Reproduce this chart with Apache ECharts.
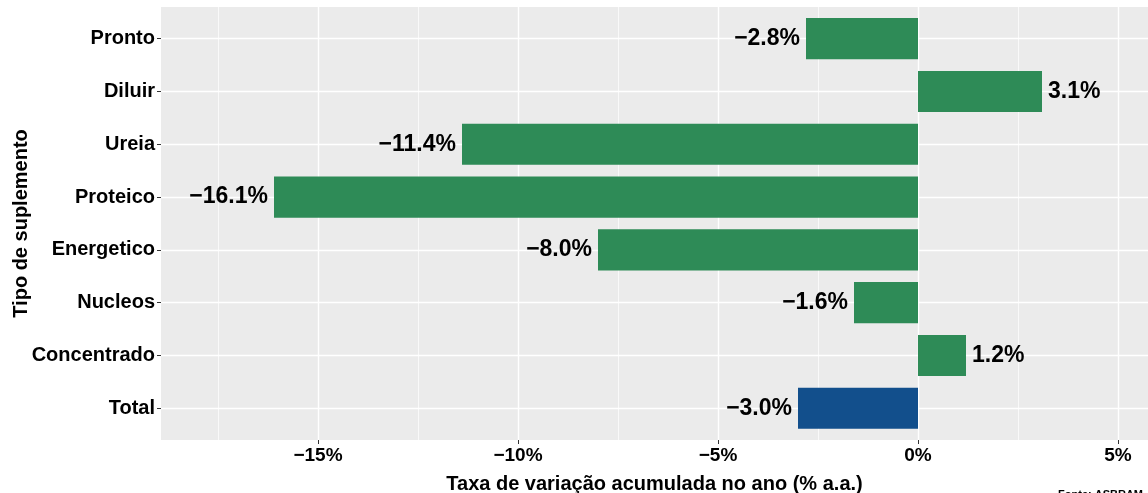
<!DOCTYPE html>
<html>
<head>
<meta charset="utf-8">
<style>
html,body{margin:0;padding:0;background:#fff;}
#chart{width:1148px;height:493px;}
</style>
</head>
<body>
<div id="chart"></div>
<script src="https://cdn.jsdelivr.net/npm/echarts@6/dist/echarts.min.js"></script>
<script type="text/javascript">
	// categorias (de cima para baixo) e taxa acumulada no ano (%)
	var categorias = ['Pronto', 'Diluir', 'Ureia', 'Proteico', 'Energetico', 'Nucleos', 'Concentrado', 'Total'];
	var taxas = [-2.8, 3.1, -11.4, -16.1, -8.0, -1.6, 1.2, -3.0];
	var ticksX = [-15, -10, -5, 0, 5];
	var ticksXMenor = [-17.5, -12.5, -7.5, -2.5, 2.5];

	var fonte = 'Liberation Sans';
	var xMin = -18.925, xMax = 5.75;

	function fmt(v) {
		return (v < 0 ? '\u2212' : '') + Math.abs(v).toFixed(1) + '%';
	}
	function fmtEixo(v) {
		return (v < 0 ? '\u2212' : '') + Math.abs(v) + '%';
	}

	var dados = [];
	for (var i = 0; i < taxas.length; i++) {
		dados.push({
			value: taxas[i],
			itemStyle: {color: categorias[i] === 'Total' ? '#124F8C' : '#2E8B57'},
			label: {position: taxas[i] < 0 ? 'left' : 'right'}
		});
	}

	// centros das categorias no painel (estilo ggplot, expansão 0.6)
	var linhasY = [];
	for (var k = 0; k < categorias.length; k++) linhasY.push(k + 0.6);

	var chart = echarts.init(document.getElementById('chart'));
	var option = {
		animation: false,
		textStyle: {fontFamily: fonte},
		title: {
			text: 'Fonte: ASBRAM',
			right: 0, bottom: -12,
			textStyle: {fontSize: 11, fontWeight: 'bold', color: '#000', fontFamily: fonte}
		},
		grid: [
			{left: 161, right: 0, top: 7, bottom: 53, show: true, backgroundColor: '#EBEBEB', borderWidth: 0, outerBoundsMode: 'none'},
			{left: 161, right: 0, top: 12.28, bottom: 58.32, outerBoundsMode: 'none'}
		],
		xAxis: [
			{
				gridIndex: 0, type: 'value', min: xMin, max: xMax, position: 'bottom',
				axisLine: {show: false, onZero: false},
				axisTick: {show: true, length: 4, lineStyle: {color: '#333'}, customValues: ticksX},
				axisLabel: {
					customValues: ticksX, margin: 6, formatter: fmtEixo,
					fontSize: 19, fontWeight: 'bold', color: '#000', fontFamily: fonte
				},
				splitLine: {show: true, lineStyle: {color: '#fff', width: 1.4}},
				name: 'Taxa de variação acumulada no ano (% a.a.)',
				nameLocation: 'middle', nameGap: 34,
				nameTextStyle: {fontSize: 20, fontWeight: 'bold', color: '#000', fontFamily: fonte}
			},
			{
				gridIndex: 0, type: 'value', min: xMin, max: xMax, position: 'top',
				axisLine: {show: false, onZero: false},
				axisTick: {show: false, customValues: ticksXMenor},
				axisLabel: {show: false, customValues: ticksXMenor},
				splitLine: {show: true, lineStyle: {color: '#fff', width: 0.7}}
			},
			{
				gridIndex: 1, type: 'value', min: xMin, max: xMax, show: false,
				splitLine: {show: false}
			}
		],
		yAxis: [
			{
				gridIndex: 0, type: 'value', min: 0, max: 8.2, inverse: true,
				axisLine: {show: false, onZero: false},
				axisTick: {show: false, customValues: linhasY},
				axisLabel: {show: false, customValues: linhasY},
				splitLine: {show: true, lineStyle: {color: '#fff', width: 1.4}}
			},
			{
				gridIndex: 1, type: 'category', data: categorias, inverse: true, position: 'left',
				axisLine: {show: false, onZero: false},
				axisTick: {show: true, length: 4, alignWithLabel: true, lineStyle: {color: '#333'}},
				axisLabel: {
					margin: 6, padding: [4, 0, 0, 0],
					fontSize: 20, fontWeight: 'bold', color: '#000', fontFamily: fonte
				},
				splitLine: {show: false},
				name: 'Tipo de suplemento',
				nameLocation: 'middle', nameGap: 130, nameMoveOverlap: false,
				nameTextStyle: {fontSize: 20, fontWeight: 'bold', color: '#000', fontFamily: fonte}
			}
		],
		series: [{
			type: 'bar',
			xAxisIndex: 2,
			yAxisIndex: 1,
			barWidth: '78%',
			data: dados,
			label: {
				show: true, distance: 6,
				padding: [4, 0, 0, 0],
				formatter: function (p) { return fmt(p.value); },
				fontSize: 23, fontWeight: 'bold', color: '#000', fontFamily: fonte
			}
		}]
	};
	chart.setOption(option);
</script>
</body>
</html>
